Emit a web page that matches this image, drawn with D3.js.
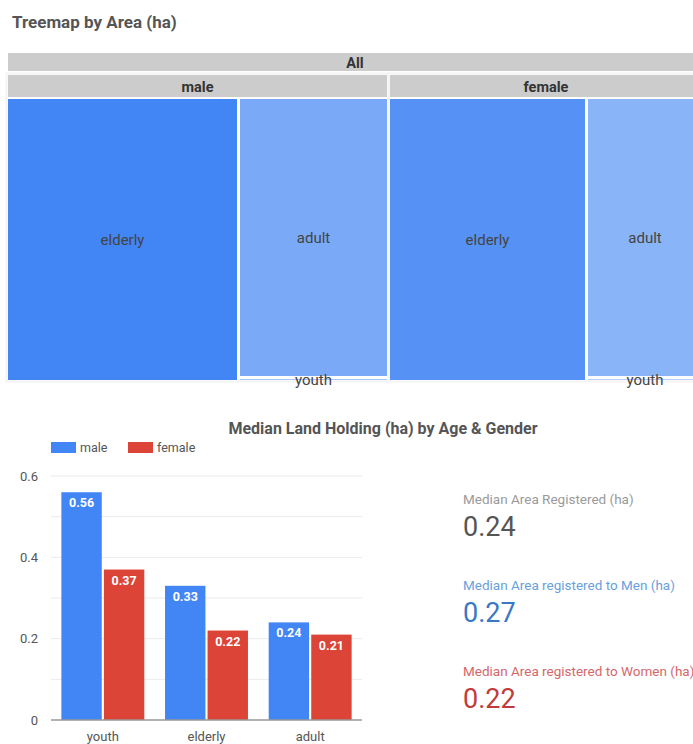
<!DOCTYPE html>
<html>
<head>
<meta charset="utf-8">
<script src="https://cdn.jsdelivr.net/npm/d3@7"></script>
<style>
  body { margin: 0; background: #fff; font-family: Roboto, "Noto Sans", sans-serif; }
  svg { display: block; }
</style>
</head>
<body>
<svg id="chart" width="693" height="744"></svg>
<script>
// Treemap data (area, ha)
const genders = ['male', 'female'];
const ageGroups = ['elderly', 'adult', 'youth'];
const areaMale = [690, 442, 7];
const areaFemale = [590, 342, 5];

// Bar chart data (median ha)
const barCategories = ['youth', 'elderly', 'adult'];
const medianMale = [0.56, 0.33, 0.24];
const medianFemale = [0.37, 0.22, 0.21];
const yTicks = [0, 0.2, 0.4, 0.6];

// Scorecards
const kpiLabels = ['Median Area Registered (ha)', 'Median Area registered to Men (ha)', 'Median Area registered to Women (ha)'];
const kpiValues = [0.24, 0.27, 0.22];

const svg = d3.select('#chart');

// ---------- Treemap ----------
svg.append('text')
    .attr('x', 12).attr('y', 28)
    .attr('font-size', 17).attr('font-weight', 700)
    .attr('fill', '#555')
    .text('Treemap by Area (ha)');

const tree = {
    name: 'All',
    children: genders.map((g, gi) => ({
        name: g,
        children: ageGroups.map((a, ai) => ({
            name: a,
            value: (gi === 0 ? areaMale : areaFemale)[ai]
        }))
    }))
};

const root = d3.hierarchy(tree).sum(d => d.value || 0);

d3.treemap()
    .tile(d3.treemapBinary)
    .size([694, 327])
    .paddingTop(d => d.depth === 0 ? 22 : 24)
    .paddingInner(3)
    .round(true)(root);

const leafColors = {
    male: { elderly: '#4285f4', adult: '#7aa9f7', youth: '#a6c6fa' },
    female: { elderly: '#5692f5', adult: '#8ab4f8', youth: '#b4cffa' }
};

const tm = svg.append('g').attr('transform', 'translate(8,53)');

// header bars for All and genders
tm.selectAll('rect.head')
    .data(root.descendants().filter(d => d.depth < 2))
    .enter()
    .append('rect')
    .attr('class', 'head')
    .attr('x', d => d.x0)
    .attr('y', d => d.y0)
    .attr('width', d => d.x1 - d.x0)
    .attr('height', d => d.depth === 0 ? 18 : 22)
    .attr('fill', '#cccccc');

// light outline around gender groups
tm.selectAll('rect.group')
    .data(root.children)
    .enter()
    .append('rect')
    .attr('class', 'group')
    .attr('x', d => d.x0 - 1.5)
    .attr('y', d => d.y0 - 1.5)
    .attr('width', d => d.x1 - d.x0 + 3)
    .attr('height', d => d.y1 - d.y0 + 3)
    .attr('fill', 'none')
    .attr('stroke', '#f4f4f4')
    .attr('stroke-width', 2);

tm.selectAll('text.head')
    .data(root.descendants().filter(d => d.depth < 2))
    .enter()
    .append('text')
    .attr('class', 'head')
    .attr('x', d => (d.x0 + d.x1) / 2)
    .attr('y', d => d.y0 + (d.depth === 0 ? 15 : 17))
    .attr('text-anchor', 'middle')
    .attr('font-size', 14.5)
    .attr('font-weight', 700)
    .attr('fill', '#333')
    .text(d => d.data.name);

const leaves = root.leaves();

tm.selectAll('rect.leaf')
    .data(leaves)
    .enter()
    .append('rect')
    .attr('class', 'leaf')
    .attr('x', d => d.x0)
    .attr('y', d => d.y0)
    .attr('width', d => d.x1 - d.x0)
    .attr('height', d => Math.max(1, d.y1 - d.y0))
    .attr('fill', d => leafColors[d.parent.data.name][d.data.name]);

tm.selectAll('text.leaf')
    .data(leaves)
    .enter()
    .append('text')
    .attr('class', 'leaf')
    .attr('x', d => (d.x0 + d.x1) / 2)
    .attr('y', d => (d.y0 + d.y1) / 2 + 5)
    .attr('text-anchor', 'middle')
    .attr('font-size', 15)
    .attr('fill', '#444')
    .text(d => d.data.name);

// ---------- Bar chart ----------
svg.append('text')
    .attr('x', 383).attr('y', 434)
    .attr('text-anchor', 'middle')
    .attr('font-size', 16).attr('font-weight', 700)
    .attr('fill', '#555')
    .text('Median Land Holding (ha) by Age & Gender');

const series = [
    { name: 'male', color: '#4285f4', values: medianMale },
    { name: 'female', color: '#db4437', values: medianFemale }
];

const legend = svg.append('g').attr('transform', 'translate(51,442)');
legend.selectAll('g')
    .data(series)
    .enter()
    .append('g')
    .attr('transform', (d, i) => `translate(${i * 77},0)`)
    .each(function (d) {
        const g = d3.select(this);
        g.append('rect').attr('width', 25).attr('height', 11).attr('fill', d.color);
        g.append('text').attr('x', 29).attr('y', 10)
            .attr('font-size', 12.5).attr('fill', '#555').text(d.name);
    });

const plot = { left: 51, right: 362, top: 476, bottom: 720 };

const y = d3.scaleLinear().domain([0, 0.6]).range([plot.bottom, plot.top]);
const x0 = d3.scaleBand().domain(barCategories).range([plot.left, plot.right]).paddingInner(0.2).paddingOuter(0.1);
const x1 = d3.scaleBand().domain(series.map(s => s.name)).range([0, x0.bandwidth()]).paddingInner(0.05);

// gridlines (major and minor)
svg.append('g')
    .selectAll('line')
    .data(d3.range(1, 7).map(i => i / 10))
    .enter()
    .append('line')
    .attr('x1', plot.left).attr('x2', plot.right)
    .attr('y1', d => y(d)).attr('y2', d => y(d))
    .attr('stroke', '#ebebeb')
    .attr('stroke-width', 1);

const yAxis = svg.append('g')
    .attr('transform', `translate(${plot.left},0)`)
    .call(d3.axisLeft(y).tickValues(yTicks).tickFormat(d => d === 0 ? '0' : d3.format('.1f')(d)).tickSize(0).tickPadding(13));
yAxis.select('.domain').remove();
yAxis.selectAll('text').attr('font-size', 13).attr('fill', '#555').attr('font-family', 'Roboto, sans-serif');

const groups = svg.append('g')
    .selectAll('g')
    .data(barCategories)
    .enter()
    .append('g')
    .attr('transform', d => `translate(${x0(d)},0)`);

series.forEach((s) => {
    groups.append('rect')
        .attr('x', x1(s.name))
        .attr('y', (d, i) => y(s.values[i]))
        .attr('width', x1.bandwidth())
        .attr('height', (d, i) => y(0) - y(s.values[i]))
        .attr('fill', s.color);
    groups.append('text')
        .attr('x', x1(s.name) + x1.bandwidth() / 2)
        .attr('y', (d, i) => y(s.values[i]) + 15)
        .attr('text-anchor', 'middle')
        .attr('font-size', 12.5)
        .attr('font-weight', 700)
        .attr('fill', '#fff')
        .text((d, i) => d3.format('.2f')(s.values[i]));
});

const xAxis = svg.append('g')
    .attr('transform', `translate(0,${plot.bottom})`)
    .call(d3.axisBottom(x0).tickSize(0).tickPadding(9));
xAxis.select('.domain').remove();
xAxis.selectAll('text').attr('font-size', 13).attr('fill', '#555').attr('font-family', 'Roboto, sans-serif').attr('dy', '0.95em');

svg.append('line')
    .attr('x1', plot.left).attr('x2', plot.right)
    .attr('y1', y(0)).attr('y2', y(0))
    .attr('stroke', '#999').attr('stroke-width', 1.5);

// ---------- Scorecards ----------
const kpiLabelColors = ['#9a9a9a', '#6a9fdd', '#d4676a'];
const kpiValueColors = ['#555', '#3a77c4', '#c23b3b'];

const kpi = svg.append('g')
    .selectAll('g')
    .data(kpiValues)
    .enter()
    .append('g')
    .attr('transform', (d, i) => `translate(463,${504 + i * 86})`);

kpi.append('text')
    .attr('font-size', 13.5)
    .attr('fill', (d, i) => kpiLabelColors[i])
    .text((d, i) => kpiLabels[i]);

kpi.append('text')
    .attr('y', 32)
    .attr('font-size', 27)
    .attr('fill', (d, i) => kpiValueColors[i])
    .text(d => d3.format('.2f')(d));
</script>
</body>
</html>
